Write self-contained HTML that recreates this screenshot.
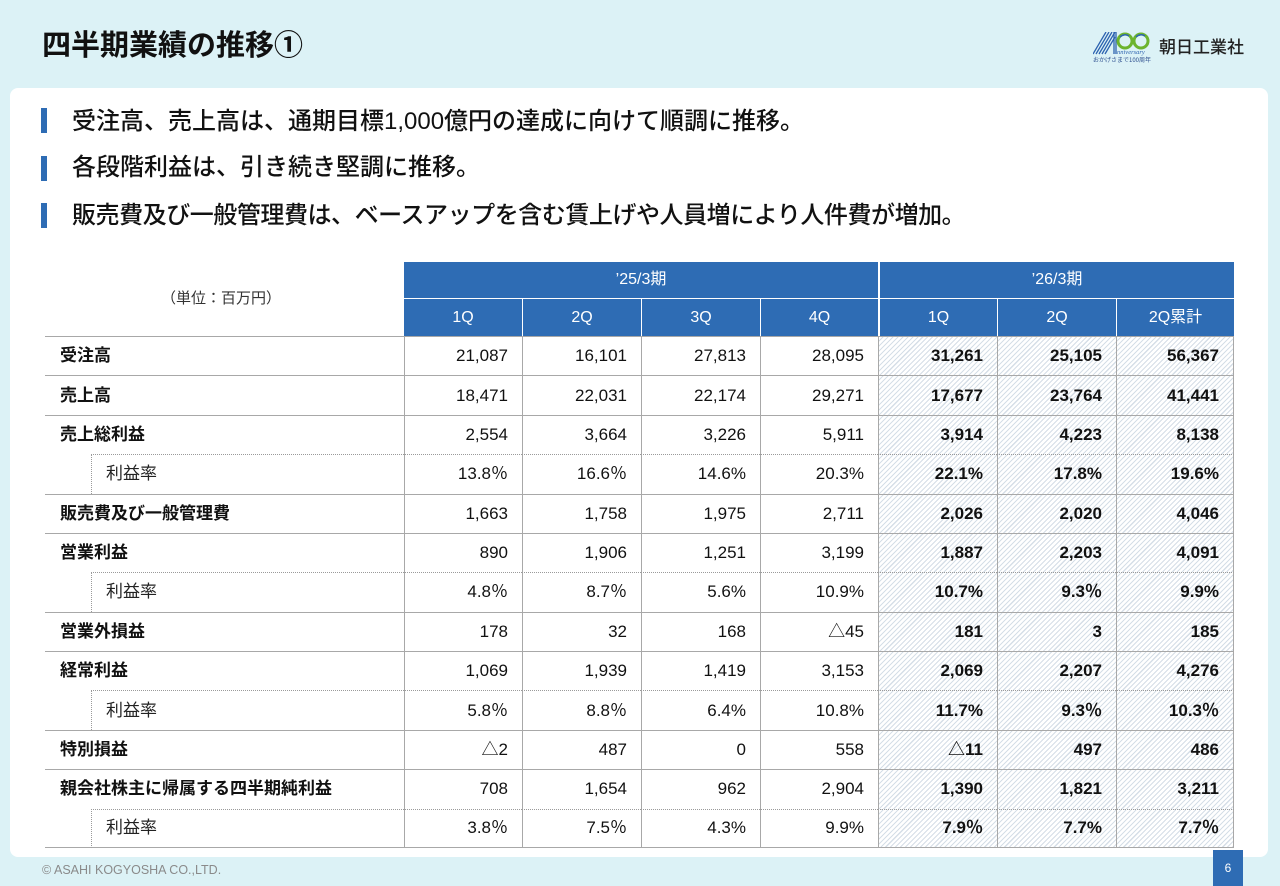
<!DOCTYPE html>
<html lang="ja"><head><meta charset="utf-8">
<style>
*{margin:0;padding:0;box-sizing:border-box}
html,body{width:1280px;height:886px;overflow:hidden;background:#dcf2f6;font-family:"Liberation Sans","Noto Sans CJK JP",sans-serif;color:#1a1a1a}
.abs{position:absolute}
.title{left:42px;top:28px;font-size:29px;font-weight:700;line-height:36px;color:#111;white-space:nowrap}
.panel{left:10px;top:88px;width:1258px;height:769px;background:#fff;border-radius:8px}
.bar{left:41px;width:6px;height:25px;background:#2e6cb4}
.bt{left:72px;font-size:24px;line-height:30px;font-weight:500;white-space:nowrap;color:#111}
.g{position:absolute;left:45px;top:262px;width:1189px;display:grid;grid-template-columns:46px 313px 118px 119px 119px 118px 119px 119px 118px;grid-template-rows:36px 38px repeat(13,39.385px)}
.g>div{display:flex;align-items:center;font-size:17px;line-height:20px;white-space:nowrap}
.unit{grid-column:1/3;grid-row:1/3;justify-content:center;padding-right:7px;font-size:15px!important;color:#333}
.hh{background:#2e6cb4;color:#fff;justify-content:center;font-size:16px!important}
.h25{grid-column:3/7}
.h26{grid-column:7/10;border-left:2px solid #fff}
.hq{border-top:1px solid #fff;border-left:1px solid #fff}
.hq.f{border-left:none}
.hq.s{border-left:2px solid #fff}
.lab{grid-column:span 2;border-top:1px solid #a8a8a8;padding-left:15px;font-weight:700;color:#111}
.ind{}
.rl{border-top:1px dotted #9a9a9a;border-left:1px dotted #9a9a9a;padding-left:14px;color:#222}
.v{border-top:1px solid #a8a8a8;border-left:1px solid #a8a8a8;justify-content:flex-end;padding-right:14px;color:#111}
.v.r{border-top:1px dotted #9a9a9a}
.v.b{font-weight:700;background:repeating-linear-gradient(135deg,#fff 0,#fff 2.4px,#d5dee7 2.4px,#d5dee7 3.5px)}
.v.e{border-right:1px solid #a8a8a8}
.last{border-bottom:1px solid #a8a8a8}
.foot{left:42px;top:862px;font-size:12.5px;color:#8a8a8a;line-height:16px;white-space:nowrap}
.pg{left:1213px;top:850px;width:30px;height:36px;background:#2e6cb4;color:#fff;font-size:12px;display:flex;align-items:center;justify-content:center}
.corp{left:1159px;top:36px;font-size:17px;line-height:24px;color:#222;font-weight:500;white-space:nowrap}
</style></head><body>
<div class="abs title">四半期業績の推移①</div>

<svg class="abs" style="left:1093px;top:32px" width="64" height="32" viewBox="0 0 64 32">
<g stroke="#2d63b0" stroke-width="1.3" fill="none">
<line x1="0" y1="22" x2="13" y2="0"/><line x1="3" y1="22" x2="16" y2="0"/><line x1="6" y1="22" x2="19" y2="0"/><line x1="9" y1="22" x2="22" y2="0"/>
<line x1="12" y1="22" x2="22" y2="5"/><line x1="21" y1="0" x2="21" y2="22"/><line x1="23" y1="0" x2="23" y2="22"/>
</g>
<circle cx="32" cy="9" r="7" fill="none" stroke="#6cb42e" stroke-width="3"/>
<circle cx="48" cy="9" r="7" fill="none" stroke="#6cb42e" stroke-width="3"/>
<path d="M27 5 A7 7 0 0 1 36 4" stroke="#2d63b0" stroke-width="1.5" fill="none"/>
<path d="M43 5 A7 7 0 0 1 52 4" stroke="#2d63b0" stroke-width="1.5" fill="none"/>
<text x="24" y="22" font-size="6.5" fill="#2d63b0" font-family="Liberation Serif, serif" font-style="italic">nniversary</text>
<text x="0" y="30" font-size="6" fill="#2d4f8f" font-family="Noto Sans CJK JP, sans-serif">おかげさまで100周年</text>
</svg>
<div class="abs corp">朝日工業社</div>

<div class="abs panel"></div>

<div class="abs bar" style="top:108px"></div>
<div class="abs bt" style="top:107px">受注高、売上高は、通期目標1,000億円の達成に向けて順調に推移。</div>
<div class="abs bar" style="top:156px"></div>
<div class="abs bt" style="top:153px">各段階利益は、引き続き堅調に推移。</div>
<div class="abs bar" style="top:203px"></div>
<div class="abs bt" style="top:201px;letter-spacing:-0.45px">販売費及び一般管理費は、ベースアップを含む賃上げや人員増により人件費が増加。</div>

<div class="g">
<div class="unit">（単位：百万円）</div>
<div class="hh h25">’25/3期</div>
<div class="hh h26">’26/3期</div>
<div class="hh hq f">1Q</div><div class="hh hq">2Q</div><div class="hh hq">3Q</div><div class="hh hq">4Q</div><div class="hh hq s">1Q</div><div class="hh hq">2Q</div><div class="hh hq">2Q累計</div>

<div class="lab">受注高</div><div class="v">21,087</div><div class="v">16,101</div><div class="v">27,813</div><div class="v">28,095</div><div class="v b">31,261</div><div class="v b">25,105</div><div class="v b e">56,367</div>

<div class="lab">売上高</div><div class="v">18,471</div><div class="v">22,031</div><div class="v">22,174</div><div class="v">29,271</div><div class="v b">17,677</div><div class="v b">23,764</div><div class="v b e">41,441</div>

<div class="lab">売上総利益</div><div class="v">2,554</div><div class="v">3,664</div><div class="v">3,226</div><div class="v">5,911</div><div class="v b">3,914</div><div class="v b">4,223</div><div class="v b e">8,138</div>

<div class="ind"></div><div class="rl">利益率</div><div class="v r">13.8％</div><div class="v r">16.6％</div><div class="v r">14.6%</div><div class="v r">20.3%</div><div class="v r b">22.1%</div><div class="v r b">17.8%</div><div class="v r b e">19.6%</div>

<div class="lab">販売費及び一般管理費</div><div class="v">1,663</div><div class="v">1,758</div><div class="v">1,975</div><div class="v">2,711</div><div class="v b">2,026</div><div class="v b">2,020</div><div class="v b e">4,046</div>

<div class="lab">営業利益</div><div class="v">890</div><div class="v">1,906</div><div class="v">1,251</div><div class="v">3,199</div><div class="v b">1,887</div><div class="v b">2,203</div><div class="v b e">4,091</div>

<div class="ind"></div><div class="rl">利益率</div><div class="v r">4.8％</div><div class="v r">8.7％</div><div class="v r">5.6%</div><div class="v r">10.9%</div><div class="v r b">10.7%</div><div class="v r b">9.3％</div><div class="v r b e">9.9%</div>

<div class="lab">営業外損益</div><div class="v">178</div><div class="v">32</div><div class="v">168</div><div class="v">△45</div><div class="v b">181</div><div class="v b">3</div><div class="v b e">185</div>

<div class="lab">経常利益</div><div class="v">1,069</div><div class="v">1,939</div><div class="v">1,419</div><div class="v">3,153</div><div class="v b">2,069</div><div class="v b">2,207</div><div class="v b e">4,276</div>

<div class="ind"></div><div class="rl">利益率</div><div class="v r">5.8％</div><div class="v r">8.8％</div><div class="v r">6.4%</div><div class="v r">10.8%</div><div class="v r b">11.7%</div><div class="v r b">9.3％</div><div class="v r b e">10.3％</div>

<div class="lab">特別損益</div><div class="v">△2</div><div class="v">487</div><div class="v">0</div><div class="v">558</div><div class="v b">△11</div><div class="v b">497</div><div class="v b e">486</div>

<div class="lab">親会社株主に帰属する四半期純利益</div><div class="v">708</div><div class="v">1,654</div><div class="v">962</div><div class="v">2,904</div><div class="v b">1,390</div><div class="v b">1,821</div><div class="v b e">3,211</div>

<div class="ind last"></div><div class="rl last">利益率</div><div class="v r last">3.8％</div><div class="v r last">7.5％</div><div class="v r last">4.3%</div><div class="v r last">9.9%</div><div class="v r b last">7.9％</div><div class="v r b last">7.7%</div><div class="v r b e last">7.7％</div>
</div>

<div class="abs foot">© ASAHI KOGYOSHA CO.,LTD.</div>
<div class="abs pg">6</div>
</body></html>
